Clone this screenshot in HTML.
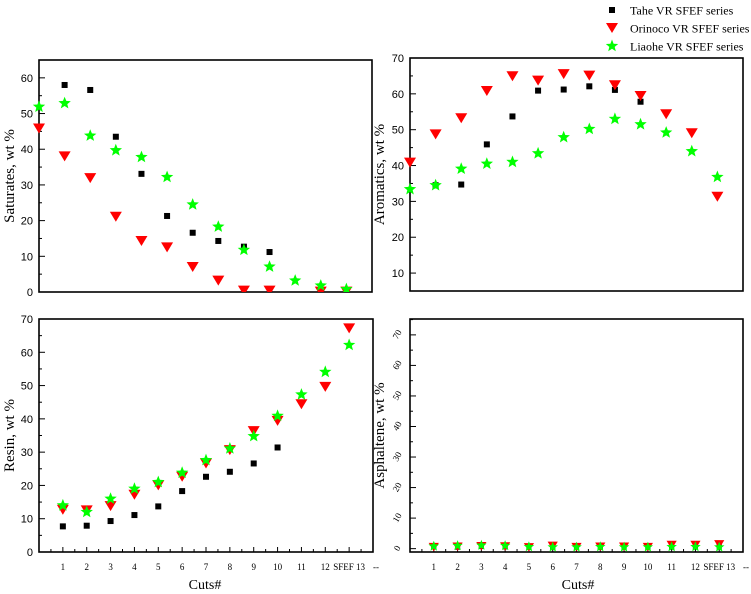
<!DOCTYPE html>
<html><head><meta charset="utf-8"><style>
html,body{margin:0;padding:0;background:#fff;}
svg{display:block;}
text{font-family:"Liberation Serif",serif;fill:#000;}
.tk{font-family:"Liberation Sans",sans-serif;font-size:11px;}
</style></head><body>
<svg id="chart" width="751" height="594" viewBox="0 0 751 594"></svg>
<script>
// ---- data (top panels: cuts index 0..12, bottom panels: index 1..13) ----
const topCuts = [0,1,2,3,4,5,6,7,8,9,10,11,12];
const botCuts = [1,2,3,4,5,6,7,8,9,10,11,12,13];
const botLabels = ["1","2","3","4","5","6","7","8","9","10","11","12","SFEF 13"];
const satTahe = [null,58,56.6,43.5,33.1,21.3,16.6,14.3,12.7,11.2,null,0.2,0.2];
const satOrinoco = [45.8,38,31.9,21.1,14.3,12.5,7,3.2,0.4,0.4,null,0.1,0.1];
const satLiaohe = [51.9,52.9,43.8,39.7,37.8,32.2,24.5,18.3,11.8,7.1,3.2,1.8,0.8];
const aroTahe = [null,34.5,34.7,45.9,53.7,60.9,61.2,62.1,61.1,57.8,null,null,null];
const aroOrinoco = [40.8,48.7,53.2,60.8,64.9,63.7,65.5,65.1,62.4,59.4,54.3,49,31.3];
const aroLiaohe = [33.4,34.5,39.1,40.5,41,43.4,47.9,50.2,53,51.5,49.2,44,36.8];
const resTahe = [7.7,7.9,9.3,11.1,13.7,18.3,22.6,24.1,26.6,31.4,null,null,null];
const resOrinoco = [12.7,12.5,13.8,17.2,20,22.6,26.6,30.6,36.3,39.4,44.4,49.6,67.2];
const resLiaohe = [14,12,16,19,21,23.8,27.6,31.1,34.8,40.9,47.3,54.1,62.2];
const aspTahe = [0.6,0.5,0.7,0.6,0.4,0.5,0.4,0.4,0.7,0.6,0.5,0.6,0.8];
const aspOrinoco = [0.5,0.6,0.8,0.7,0.4,0.9,0.5,0.6,0.6,0.5,1.2,1.2,1.4];
const aspLiaohe = [0.8,1.0,1.1,1.0,0.6,0.5,0.5,0.6,0.5,0.5,0.6,0.6,0.5];
const satTicks = [0,10,20,30,40,50,60];
const aroTicks = [10,20,30,40,50,60,70];
const resTicks = [0,10,20,30,40,50,60,70];
const aspTicks = [0,10,20,30,40,50,60,70];

const NS = "http://www.w3.org/2000/svg";
const svg = document.getElementById("chart");
function mk(tag, attrs, parent){ const e=document.createElementNS(NS,tag); for(const k in attrs) e.setAttribute(k,attrs[k]); (parent||svg).appendChild(e); return e; }

function square(g,x,y,s){ s=s||1; const e=mk("rect",{x:x-3*s,y:y-3*s,width:6*s,height:6*s,fill:"#000"},g);
  
   }
function tri(g,x,y,s){ s=s||1; const e=mk("polygon",{points:`${x-6*s},${y-5*s} ${x+6*s},${y-5*s} ${x},${y+5*s}`,fill:"#f00"},g);
  
   }
function star(g,x,y,s){ s=s||1; let p=[]; for(let i=0;i<10;i++){const r=(i%2?2.8:6.5)*s; const a=-Math.PI/2+i*Math.PI/5; p.push((x+r*Math.cos(a)).toFixed(1)+","+(y+r*Math.sin(a)).toFixed(1));}
  const e=mk("polygon",{points:p.join(" "),fill:"#0f0"},g);
  
   }

function panel(o){
  const g=mk("g",{});
  
  
  const sx=v=>o.x0+(v-o.xmin)/(o.xmax-o.xmin)*(o.x1-o.x0);
  const sy=v=>o.y1-(v-o.ymin)/(o.ymax-o.ymin)*(o.y1-o.y0);
  const clip="clip-"+o.name;
  const cp=mk("clipPath",{id:clip},g); mk("rect",{x:o.x0-7,y:o.y0,width:o.x1-o.x0+7,height:o.y1-o.y0},cp);
  for(let v=Math.ceil(o.ymin/5)*5;v<=o.ymax;v+=5){ const y=sy(v); const major=(v%10===0);
    mk("line",{x1:o.x0,x2:o.x0+(major?6:3),y1:y,y2:y,stroke:"#000","stroke-width":1},g);}
  o.yt.forEach(v=>{ const y=sy(v);
    if(o.rotTicks){ const t=mk("text",{x:o.x0-12,y:y,"font-size":9,"text-anchor":"middle",transform:`rotate(-60 ${o.x0-12} ${y})`,"dominant-baseline":"middle"},g); t.textContent=v;
        }
    else { const t=mk("text",{x:o.x0-6,y:y+4,"text-anchor":"end",class:"tk"},g); t.textContent=v;
        } });
  if(o.xlabels){
    for(let v=0.5;v<o.xmax;v+=0.5){ const x=sx(v); const major=(v%1===0);
      mk("line",{x1:x,x2:x,y1:o.y1,y2:o.y1-(major?5:3),stroke:"#000","stroke-width":1},g);}
    o.xlabels.forEach((l,i)=>{ const t=mk("text",{x:sx(o.cuts[i]),y:o.y1+18,"font-size":9,"text-anchor":"middle"},g); t.textContent=l;
       });
    const t=mk("text",{x:sx(o.xmax)+3,y:o.y1+18,"font-size":9,"text-anchor":"middle"},g); t.textContent="--";
     
  }
  mk("rect",{x:o.x0,y:o.y0,width:o.x1-o.x0,height:o.y1-o.y0,fill:"none",stroke:"#000","stroke-width":1.6},g);
  const lab=mk("text",{x:o.lx,y:(o.y0+o.y1)/2,"font-size":15,"text-anchor":"middle",transform:`rotate(-90 ${o.lx} ${(o.y0+o.y1)/2})`},g);
  lab.textContent=o.ylabel;
   
  const pg=mk("g",{"clip-path":`url(#${clip})`},g);
  const s=o.ms||1;
  [[o.s1,square],[o.s2,tri],[o.s3,star]].forEach(([arr,f])=>arr.forEach((v,i)=>{ if(v!==null) f(pg,sx(o.cuts[i]),sy(v),s); }));
}

panel({name:"saturates-panel",x0:39,x1:372,y0:60,y1:292,xmin:0,xmax:13,ymin:0,ymax:65,yt:satTicks,cuts:topCuts,s1:satTahe,s2:satOrinoco,s3:satLiaohe,ylabel:"Saturates, wt %",lx:14});
panel({name:"aromatics-panel",x0:410,x1:743,y0:58,y1:291,xmin:0,xmax:13,ymin:5,ymax:70,yt:aroTicks,cuts:topCuts,s1:aroTahe,s2:aroOrinoco,s3:aroLiaohe,ylabel:"Aromatics, wt %",lx:384});
panel({name:"resin-panel",x0:39,x1:373,y0:319,y1:552,xmin:0,xmax:14,ymin:0,ymax:70,yt:resTicks,cuts:botCuts,xlabels:botLabels,s1:resTahe,s2:resOrinoco,s3:resLiaohe,ylabel:"Resin, wt %",lx:14});
panel({name:"asphaltene-panel",x0:410,x1:743,y0:319,y1:552,xmin:0,xmax:14,ymin:-1.1,ymax:75.2,yt:aspTicks,rotTicks:true,ms:0.85,cuts:botCuts,xlabels:botLabels,s1:aspTahe,s2:aspOrinoco,s3:aspLiaohe,ylabel:"Asphaltene, wt %",lx:384});

[[205,"x-axis-title-left"],[578,"x-axis-title-right"]].forEach(([x,n])=>{ const t=mk("text",{x:x,y:589,"font-size":14,"text-anchor":"middle"}); t.textContent="Cuts#";
    });

const lg=mk("g",{});


const legendNames=["Tahe VR SFEF series","Orinoco VR SFEF series","Liaohe VR SFEF series"];
[square,tri,star].forEach((f,i)=>{ const y=10+i*18; f(lg,612,y);
  const t=mk("text",{x:630,y:y+4.5,"font-size":12},lg); t.textContent=legendNames[i];
    });
</script>
</body></html>
